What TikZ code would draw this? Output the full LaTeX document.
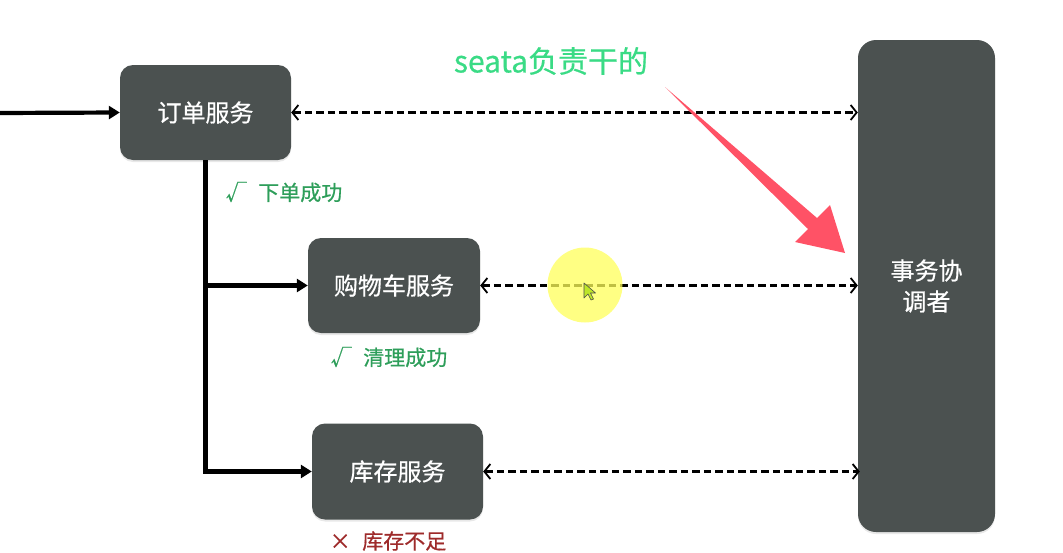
\documentclass[tikz,border=0pt]{standalone}
\usepackage{fontspec}
\setmainfont{Noto Sans CJK SC}[FakeBold=0.6]
\usetikzlibrary{arrows.meta,shadows}
\definecolor{boxgray}{HTML}{4B5150}
\definecolor{okgreen}{HTML}{2E9E5A}
\definecolor{badred}{HTML}{9E2B2B}
\definecolor{seatagreen}{HTML}{3ADB85}
\definecolor{arrowred}{HTML}{FF5266}
\definecolor{hilite}{RGB}{255,255,90}
\definecolor{cursorgreen}{RGB}{190,230,40}
\begin{document}
\begin{tikzpicture}[x=1pt,y=-1pt,
  svc/.style={draw=none, fill=boxgray, rounded corners=13pt, text=white,
    font=\fontsize{24pt}{31pt}\selectfont, align=center,
    drop shadow={opacity=0.18, shadow xshift=0pt, shadow yshift=-2pt}},
  flow/.style={line width=4.2pt, -{Triangle[length=11pt,width=13pt]}},
  trunk/.style={line width=4.2pt},
  sync/.style={line width=2.2pt, dash pattern=on 7.5pt off 4pt,
    {Straight Barb[length=6pt,width=15pt,line width=1.8pt]}-{Straight Barb[length=6pt,width=15pt,line width=1.8pt]}},
  status/.style={font=\fontsize{21pt}{24pt}\selectfont, anchor=center}
]
\useasboundingbox (0,0) rectangle (1063,552);

% nodes
\node[svc, minimum width=171pt, minimum height=95pt] (order) at (205.5,112.5) {订单服务};
\node[svc, minimum width=172pt, minimum height=95pt] (cart) at (394,285.5) {购物车服务};
\node[svc, minimum width=171pt, minimum height=96pt] (stock) at (397.5,471.5) {库存服务};
\node[svc, minimum width=137pt, minimum height=492pt, rounded corners=18pt] (tc) at (926.5,286) {事务协\\调者};

\coordinate (entry) at (-2,113);

% solid connectors
\draw[flow] (entry) -- (order.west);
\draw[trunk] (order.south) -- (order.south |- stock.west);
\draw[flow] (order.south) |- (cart.west);
\draw[flow] (order.south) |- (stock.west);

% dashed connectors
\draw[sync] (order.east) -- (tc.west |- order.east);
\draw[sync] (cart.east) -- (tc.west |- cart.east);
\draw[sync] (stock.east) -- ([xshift=2pt]tc.west |- stock.east);

% status labels
\node[status, text=okgreen] (s1) at (284,192) {√\hspace{0.55em}下单成功};
\node[status, text=okgreen] (s2) at (389,357) {√\hspace{0.55em}清理成功};
\node[status, text=badred] (s3) at (388,541) {×\hspace{0.55em}库存不足};

% annotation
\node[font=\fontsize{30pt}{34pt}\selectfont, text=seatagreen] (note) at (551,61) {seata负责干的};
\fill[arrowred] (665,87) -- (808,229) -- (795,242) -- (845,253) -- (830,205) -- (817,218) -- cycle;

% highlight and cursor
\fill[hilite, opacity=0.75] (585,285) circle (37.5pt);
\filldraw[fill=cursorgreen, draw=black!70, line width=0.6pt, line join=round]
  (584,283) -- (584,298) -- (588,294) -- (591,300) -- (593.5,299) -- (590.5,293) -- (595.5,293) -- cycle;
\end{tikzpicture}
\end{document}
